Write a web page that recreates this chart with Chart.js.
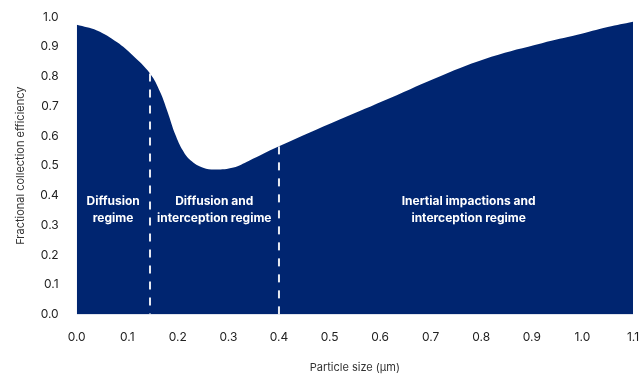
<!DOCTYPE html>
<html>
<head>
<meta charset="utf-8">
<script src="https://cdn.jsdelivr.net/npm/chart.js@4/dist/chart.umd.min.js"></script>
<style>
  html, body { margin: 0; padding: 0; background: #ffffff; }
  #c { display: block; }
</style>
</head>
<body>
<canvas id="c" width="641" height="374"></canvas>
<script>
// ---- Data ----
const particleSize = [0, 0.04, 0.08, 0.11, 0.145, 0.165, 0.18, 0.195, 0.21, 0.225, 0.25, 0.275, 0.31, 0.34, 0.4, 0.52, 0.62, 0.72, 0.82, 0.92, 0.99, 1.05, 1.1];
const efficiency   = [0.974, 0.955, 0.915, 0.872, 0.81, 0.748, 0.68, 0.605, 0.551, 0.518, 0.493, 0.487, 0.494, 0.516, 0.565, 0.655, 0.728, 0.802, 0.866, 0.912, 0.94, 0.966, 0.984];
const regimeBoundaries = [0.145, 0.4];
const regimeBoundaryTops = [0.81, 0.565];
const regimeNames = [
  ["Diffusion", "regime"],
  ["Diffusion and", "interception regime"],
  ["Inertial impactions and", "interception regime"]
];
const xTickValues = [0, 0.1, 0.2, 0.3, 0.4, 0.5, 0.6, 0.7, 0.8, 0.9, 1.0, 1.1];
const yTickValues = [0, 0.1, 0.2, 0.3, 0.4, 0.5, 0.6, 0.7, 0.8, 0.9, 1.0];
const xTitle = "Particle size (µm)";
const yTitle = "Fractional collection efficiency";

// ---- Styling / layout (not data) ----
const NAVY = "#002570";
const FONT = "Inter, 'DejaVu Sans', sans-serif";
const regimeLabelAnchor = [
  { x: 0.072, y: 0.35 },
  { x: 0.272, y: 0.35 },
  { x: 0.775, y: 0.35 }
];

const mainData = particleSize.map((x, i) => ({ x: x, y: efficiency[i] }));

const boundaryDatasets = regimeBoundaries.map((bx, i) => ({
  type: 'line',
  data: [{ x: bx, y: regimeBoundaryTops[i] }, { x: bx, y: 0 }],
  borderColor: 'rgba(255,255,255,0.9)',
  borderWidth: 2,
  borderDash: [8, 8],
  pointRadius: 0,
  fill: false,
  tension: 0,
  order: 0
}));

const labelPlugin = {
  id: 'regimeLabels',
  afterDatasetsDraw(chart) {
    const ctx = chart.ctx;
    const xs = chart.scales.x, ys = chart.scales.y;
    ctx.save();
    ctx.fillStyle = '#ffffff';
    ctx.font = "bold 12px " + FONT;
    ctx.textAlign = 'center';
    ctx.textBaseline = 'middle';
    regimeNames.forEach((lines, i) => {
      const px = xs.getPixelForValue(regimeLabelAnchor[i].x);
      const py = ys.getPixelForValue(regimeLabelAnchor[i].y);
      lines.forEach((t, j) => {
        ctx.fillText(t, px, py + (j - (lines.length - 1) / 2) * 17);
      });
    });
    ctx.restore();
  }
};

new Chart(document.getElementById('c'), {
  type: 'line',
  data: {
    datasets: [
      {
        data: mainData,
        borderWidth: 0,
        borderColor: NAVY,
        backgroundColor: NAVY,
        fill: 'origin',
        pointRadius: 0,
        tension: 0.4,
        order: 1
      },
      ...boundaryDatasets
    ]
  },
  options: {
    responsive: false,
    animation: false,
    layout: { padding: { top: 0, right: 0, bottom: 0, left: 14 } },
    plugins: {
      legend: { display: false },
      tooltip: { enabled: false }
    },
    scales: {
      x: {
        type: 'linear',
        min: 0,
        max: 1.1,
        grid: { display: false, drawTicks: false },
        border: { display: false },
        afterBuildTicks: (axis) => { axis.ticks = xTickValues.map(v => ({ value: v })); },
        afterFit: (axis) => { axis.paddingRight = 8; axis.paddingLeft = 0; },
        ticks: {
          color: '#222222',
          font: { family: FONT, size: 12 },
          padding: 16,
          maxRotation: 0,
          callback: (v) => Number(v).toFixed(1)
        },
        title: {
          display: true,
          text: xTitle,
          color: '#333333',
          font: { family: FONT, size: 11 },
          padding: { top: 0, bottom: 0 }
        }
      },
      y: {
        type: 'linear',
        min: 0,
        max: 1.0,
        grid: { display: false, drawTicks: false },
        border: { display: false },
        afterBuildTicks: (axis) => { axis.ticks = yTickValues.map(v => ({ value: v })); },
        afterFit: (axis) => { axis.paddingTop = 17; axis.paddingBottom = 0; },
        ticks: {
          color: '#222222',
          font: { family: FONT, size: 12 },
          padding: 18,
          callback: (v) => Number(v).toFixed(1)
        },
        title: {
          display: true,
          text: yTitle,
          color: '#333333',
          font: { family: FONT, size: 11 },
          padding: { top: 0, bottom: -5 }
        }
      }
    }
  },
  plugins: [labelPlugin]
});
</script>
</body>
</html>
